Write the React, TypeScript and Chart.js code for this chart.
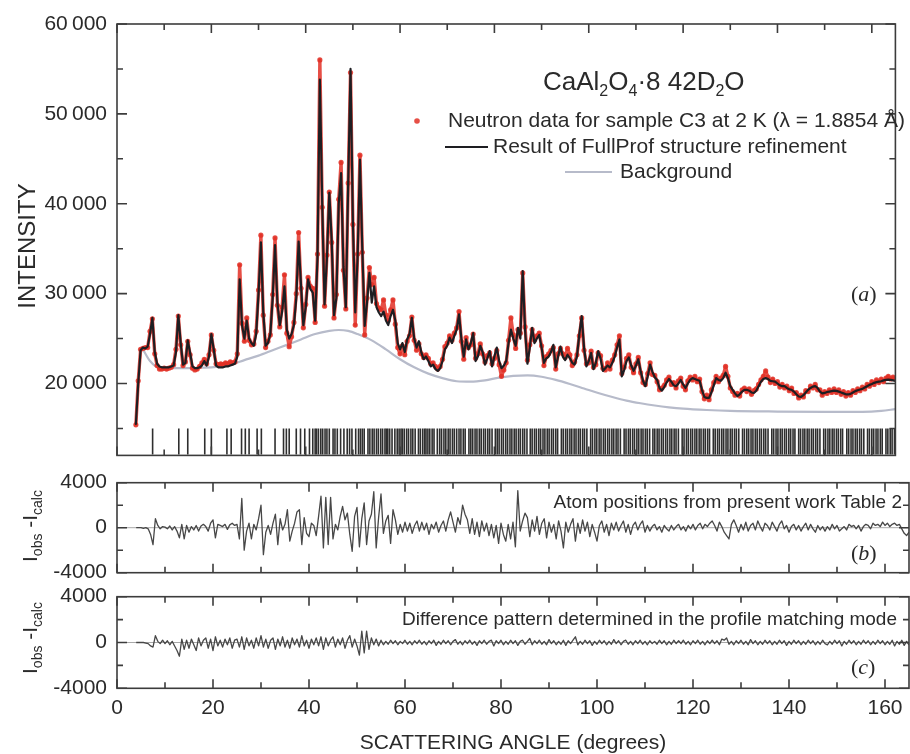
import React, { useEffect, useRef } from 'react';
import { Chart, registerables } from 'chart.js';

Chart.register(...registerables);

// ---------- DATA ----------
const ANGLE_START = 4;
const ANGLE_STEP = 0.5;

// calculated profile (FullProf refinement), one value per 0.5 deg from 4 deg
const CALC_INTENSITY = [
  15500, 20000, 23700, 24000, 23900, 24100, 25500, 27300, 23500, 22200, 21900, 21800, // 4.0-9.5
  21800, 21800, 21800, 21900, 22000, 23500, 27600, 24500, 22100, 22300, 24800, 23400, // 10-15.5
  21900, 21700, 21700, 21800, 22000, 22500, 22000, 23000, 25500, 23800, 22000, 21800, // 16-21.5
  21800, 21800, 21900, 21900, 22000, 22100, 22200, 23000, 31600, 26500, 25000, 27000, // 22-27.5
  25000, 24500, 24200, 25500, 30000, 35700, 28000, 24200, 24500, 25500, 29500, 35400, // 28-33.5
  29000, 26500, 28000, 30800, 26000, 25000, 25500, 26500, 29500, 35800, 31000, 26500, // 34-39.5
  28500, 31600, 30500, 30100, 27000, 34000, 53800, 40000, 28800, 34000, 41200, 36000, // 40-45.5
  27600, 29500, 40000, 43400, 33000, 28500, 42000, 55000, 38000, 27900, 34000, 44900, // 46-51.5
  35000, 26400, 29000, 32300, 29000, 30800, 28500, 27900, 27500, 28000, 27000, 26500, // 52-57.5
  27500, 28200, 27000, 24500, 23800, 24500, 23500, 24900, 25500, 27300, 25000, 24000, // 58-63.5
  24700, 23500, 22700, 23000, 22500, 21900, 22100, 21600, 21400, 21700, 22500, 23800, // 64-69.5
  24200, 25100, 24500, 25300, 26000, 27700, 25000, 23000, 24900, 23800, 24500, 25600, // 70-75.5
  22500, 23000, 24200, 23500, 22100, 22800, 23600, 21900, 23000, 24000, 22500, 21700, // 76-81.5
  22000, 22500, 24500, 26000, 25000, 24200, 26200, 25000, 32500, 26000, 22200, 24000, // 82-87.5
  26200, 24500, 25000, 25400, 24000, 22300, 22800, 23000, 23500, 24300, 21800, 23000, // 88-93.5
  24100, 23000, 22600, 23200, 22800, 22300, 22100, 23000, 25500, 27500, 24000, 21900, // 94-99.5
  22500, 23400, 21600, 22300, 23600, 22800, 21400, 21700, 22000, 21800, 22300, 23000, // 100-105.5
  24000, 24900, 20800, 21500, 22500, 22900, 22000, 21400, 22000, 22700, 21400, 20300, // 106-111.5
  19700, 20800, 22100, 21300, 20700, 20400, 19500, 19200, 19600, 20100, 20500, 20200, // 112-117.5
  19800, 19700, 20000, 20400, 19900, 19500, 20000, 20400, 20600, 20500, 20400, 20300, // 118-123.5
  19300, 18500, 18400, 18400, 19000, 19800, 20600, 20400, 20300, 20600, 21200, 20600, // 124-129.5
  19700, 19300, 18900, 18600, 18800, 19100, 19300, 19300, 19200, 19000, 18950, 19200, // 130-135.5
  19700, 20200, 20500, 20600, 20500, 20300, 20250, 20200, 20000, 19800, 19700, 19700, // 136-141.5
  19500, 19350, 19300, 19100, 18800, 18550, 18500, 18700, 19000, 19300, 19500, 19650, // 142-147.5
  19700, 19500, 19100, 18900, 18950, 19050, 19100, 19150, 19200, 19180, 19100, 19000, // 148-153.5
  18900, 18800, 18780, 18850, 19000, 19150, 19250, 19330, 19400, 19550, 19700, 19850, // 154-159.5
  19950, 20070, 20150, 20200, 20250, 20350, 20400, 20440, 20400, 20350, 20300, // 160-165
];

// observed neutron counts (red points), same angle grid
const OBS_INTENSITY = [
  15400, 20300, 23800, 23900, 24000, 24000, 25800, 27200, 23300, 22000, 21600, 21600,
  21700, 21600, 21700, 21800, 22100, 23800, 27500, 24300, 22000, 22400, 24700, 23200,
  21700, 21500, 21600, 21900, 22300, 22700, 22200, 23200, 25400, 23700, 22200, 22100,
  22200, 22100, 22300, 22200, 22400, 22300, 22400, 23300, 33200, 26700, 24700, 27300,
  24800, 24300, 24400, 25800, 30400, 36500, 27600, 24000, 24700, 25400, 29900, 36200,
  28700, 26300, 28500, 32100, 25600, 24100, 25200, 26800, 30000, 36800, 30600, 26200,
  28800, 31800, 30800, 30600, 26800, 34400, 56000, 39600, 28600, 34300, 41300, 35700,
  27300, 29900, 40500, 44600, 32600, 28300, 42300, 54600, 37700, 26500, 34400, 45400,
  34600, 25400, 29500, 32900, 31000, 31800, 28900, 28400, 28200, 29300, 27600, 27000,
  28200, 29300, 26600, 24000, 23300, 24200, 23200, 24700, 25300, 27400, 24800, 23700,
  24400, 23300, 22900, 23200, 22800, 22200, 22300, 21900, 21600, 21900, 22700, 24100,
  24500, 25300, 24800, 25600, 26200, 28000, 24700, 22700, 25100, 24000, 24300, 25500,
  22800, 23300, 24400, 23300, 22400, 23100, 23400, 22200, 22800, 23700, 22100, 20800,
  21500, 22300, 24800, 27300, 25400, 23900, 26000, 25600, 32300, 26300, 22600, 24300,
  26000, 24800, 25300, 25600, 24200, 22000, 23000, 23300, 23700, 24000, 21600, 23300,
  23900, 23300, 22900, 23900, 23200, 22000, 22400, 23200, 25300, 27300, 23700, 22200,
  22300, 23600, 21800, 22100, 23400, 23100, 21700, 21500, 22300, 21600, 22600, 23200,
  24300, 25300, 21100, 21800, 22800, 23200, 21800, 21200, 22200, 22900, 21200, 20100,
  19900, 21100, 22300, 21000, 20900, 20200, 19300, 19500, 19800, 20400, 20700, 19900,
  20100, 19500, 20300, 20600, 19700, 19300, 20300, 20700, 20400, 20800, 20200, 20500,
  19100, 18300, 18700, 18200, 19300, 20100, 20800, 20200, 20600, 20900, 21900, 20800,
  19500, 19100, 18700, 18900, 18600, 19300, 19500, 19100, 19400, 18800, 19200, 19400,
  19900, 20400, 20800, 21400, 20700, 20100, 20500, 20000, 20200, 19600, 19900, 19500,
  19700, 19200, 19500, 18900, 19000, 18400, 18700, 18500, 19200, 19100, 19700, 19500,
  19900, 19300, 19300, 18700, 19100, 18900, 19300, 19000, 19400, 19000, 19300, 18800,
  19100, 18600, 19000, 18700, 19200, 19000, 19400, 19200, 19600, 19400, 19900, 19700,
  20200, 19900, 20400, 20100, 20500, 20200, 20600, 20800, 20500, 20700, 20500,
];

// Iobs - Icalc, atom positions from Table 2 (panel b)
const DIFF_STRUCTURE = [
  0, 0, 0, -50, 0, -100, -600, -1500, 800, 200, -100, 100,
  50, -100, 150, -200, 100, -300, -900, 300, -1000, 200, -400, 100,
  -200, 200, -300, 150, 300, 100, -300, 400, 700, -900, 300, 200,
  100, 300, -150, 250, 400, 200, 300, -1000, 2600, -2000, -300, 400,
  -1000, 300, -200, 800, 2000, -2400, -400, 200, -600, 400, 1200, -1500,
  800, -200, 300, 1600, -1200, -300, 400, 1400, 1600, -1500, 900, -500,
  -800, 400, 200, -700, 1000, 2800, -1800, 2700, -1500, 2700, -1000, 300,
  -200, 1000, 1900, 700, 1300, -600, -2100, 1000, 1800, -1700, 800, 2200,
  -1500, 600, 1200, 3200, -1800, 900, 3000, -500, 600, 1100, -1400, 1600,
  700, -600, 300, -400, 500, -300, 400, -500, 200, 600, -300, 500,
  -200, 400, -600, 300, -100, 500, -400, 200, 600, -300, 700, 1400,
  500, -400, 900, 300, 2000, 1200, 700, -500, 800, -600, 500, -800,
  600, -300, 400, -700, 300, -900, 200, -1400, 400, -600, -1200, 300,
  -1000, 500, -1700, 3300, -300, 600, 1300, 900, -800, 700, -300, 1000,
  -600, 400, 800, -900, 500, -400, 300, -1000, 600, -300, -1800, 500,
  -400, 300, 800, -1200, 400, -500, 700, -300, 500, -800, 300, -400,
  -1200, 200, 600, -400, 300, -700, 400, -200, 500, -300, 200, 600,
  -400, 300, -600, 200, 500, -200, 300, 600, -400, 200, -300, 100,
  300, -200, 100, -400, 200, -100, -300, 200, -200, 100, 300, -200,
  100, -300, 200, -100, 300, -200, 200, 400, -100, 300, 100, 400,
  600, 200, -300, 500, 100, -400, -700, -1000, 300, 700, 200, -400,
  300, -200, 500, -300, 200, 400, -200, 600, 100, -300, 400, 200,
  -200, 500, 100, -300, 300, 600, -100, 200, -400, 100, 300, -200,
  200, -300, 100, 400, -200, 300, -100, -400, 200, -200, 100, -300,
  100, -200, 300, -100, 200, -300, -100, 100, -200, 300, 100, 200,
  -100, 200, -300, 100, 300, 200, -100, 400, 200, 300, 100, 500,
  200, 400, 100, 300, 400, 200, 300, -100, -500, -700, -400,
];

// Iobs - Icalc, profile matching mode (panel c)
const DIFF_PROFILE = [
  0, 0, 0, 0, -50, -100, -300, -400, 600, 100, -100, 200,
  -100, 150, -200, 100, -300, -700, -1200, 300, -600, 200, -500, 300,
  -200, -700, 400, -300, 200, 400, -500, 300, -700, 500, -300, 200,
  -400, 300, -200, 400, -500, 200, 300, -400, 500, -600, 400, -300,
  200, -500, 400, -300, 600, -400, 300, -500, 200, 400, -600, 300,
  -300, 500, -400, 200, -500, 400, -200, 300, -400, 600, -300, 200,
  -500, 300, -200, 400, -300, 500, -600, 400, -300, 200, 500, -400,
  300, -200, 400, -500, 200, 600, -400, 300, -300, -1100, 1000, -900,
  1000, -600, 400, -200, 300, -300, 200, -200, 100, -150, 200, -100,
  150, -200, 100, -100, 200, -150, 100, -200, 150, -100, 200, -150,
  100, -200, 150, -100, 200, -250, 100, -150, 200, -100, 150, -200,
  100, 250, -150, 100, -200, 150, -100, 200, -150, 100, -250, 150,
  -100, 200, -150, 100, 200, -300, 150, -100, 200, -200, 100, -150,
  200, -100, 150, -250, 100, 200, -150, 100, 350, -200, 150, -100,
  200, -150, 100, -200, 250, -100, 150, -200, 100, -150, 200, -250,
  150, -100, 200, 500, -200, 100, -150, 200, -100, 150, -250, 100,
  -150, 200, -100, 150, -200, 100, -150, 250, -100, 150, -200, 100,
  200, -150, 100, -200, 150, -100, 200, -150, 100, -200, 150, -100,
  100, -150, 200, -100, 150, -200, 100, -150, 200, -100, 150, -100,
  200, -150, 100, -200, 150, -100, 200, -150, 100, -200, 150, -100,
  200, -100, 150, -200, 300, 200, 400, -150, 100, -200, 150, -100,
  200, -150, 100, -200, 250, -100, 150, -200, 100, -150, 200, -100,
  150, -200, 100, -150, 200, -100, 150, -250, 100, -150, 200, -100,
  150, -200, 100, -150, 200, -100, 150, -200, 100, -150, 200, -100,
  -200, 100, -150, 200, -100, 150, -300, 100, -150, 200, -100, 150,
  -200, 100, -150, 200, -100, 150, -200, 100, -150, 200, -100, 150,
  -200, 100, -150, 200, -300, 100, -150, 200, -250, 100, -200,
];

const BACKGROUND_ANGLE = [5.5, 7, 9, 12, 15, 18, 21, 24, 27, 30, 33, 36, 39, 42, 45, 47, 49, 51, 54, 57, 60, 63, 66, 69, 72, 75, 78, 81, 84, 87, 90, 93, 96, 99, 102, 105, 108, 111, 114, 117, 120, 125, 130, 140, 150, 158, 162, 165];
const BACKGROUND_INTENSITY = [23800, 22500, 21750, 21700, 21700, 21750, 21850, 22100, 22600, 23100, 23700, 24300, 24900, 25500, 25850, 25950, 25850, 25500, 24800, 23800, 22700, 21800, 21100, 20600, 20250, 20200, 20350, 20650, 20850, 20900, 20750, 20400, 19950, 19450, 18950, 18500, 18100, 17800, 17550, 17350, 17200, 17050, 16950, 16880, 16850, 16850, 16950, 17150];

// Bragg reflection positions (deg)
const BRAGG_ANGLES = [
  7.55, 13.1, 15.0, 18.6, 20.0, 23.3, 24.2, 26.4, 27.2, 28.0, 29.7, 30.6, 33.5, 35.3, 35.9, 36.5,
  38.0, 38.9, 39.8, 40.8, 41.5, 42.0, 42.3, 42.7, 43.2, 43.6, 44.1, 44.5, 45.0, 45.8, 46.2, 46.7, 47.4, 48.1, 48.8,
  49.3, 49.8, 50.6, 51.2, 51.6, 52.0, 52.4, 53.2, 53.6, 54.1, 54.5, 55.0, 55.4, 55.9, 56.3, 56.8, 57.1, 57.4, 57.8,
  58.3, 58.9, 59.4, 59.8, 60.2, 60.5, 60.9, 61.4, 61.8, 62.3, 62.7, 63.2, 63.9, 64.3, 64.8, 65.2, 65.5, 65.9,
  66.3, 66.8, 67.2, 67.9, 68.4, 68.8, 69.3, 69.7, 70.2, 70.6, 71.1, 71.5, 72.0, 72.5, 72.9, 73.4,
  73.8, 74.6, 75.0, 75.4, 75.9, 76.3, 76.8, 77.2, 77.7, 78.1, 78.6, 79.0, 79.5, 80.2, 80.6, 81.0,
  81.5, 81.9, 82.4, 82.8, 83.3, 83.7, 84.2, 84.6, 85.1, 85.5, 86.0, 86.4, 86.9, 87.6, 88.0, 88.5,
  88.9, 89.4, 89.8, 90.3, 90.7, 91.2, 91.6, 92.1, 92.5, 93.0, 93.4, 94.2, 94.6, 95.1, 95.5, 96.0,
  96.4, 96.9, 97.3, 97.8, 98.2, 98.7, 99.1, 99.6, 100.4, 100.8, 101.3, 101.7, 102.2, 102.6, 103.1, 103.5,
  104.0, 104.4, 104.9, 105.3, 105.8, 106.2, 106.7, 107.5, 107.9, 108.4, 108.8, 109.3, 109.7, 110.2, 110.6, 111.1,
  111.5, 112.0, 112.4, 112.9, 113.6, 114.0, 114.5, 114.9, 115.4, 115.8, 116.3, 116.7, 117.2, 117.6, 118.1, 118.5,
  119.0, 119.8, 120.2, 120.7, 121.1, 121.6, 122.0, 122.5, 122.9, 123.4, 123.8, 124.3, 124.7, 125.2, 125.6, 126.4,
  126.8, 127.3, 127.7, 128.2, 128.6, 129.1, 129.5, 130.0, 130.4, 130.9, 131.3, 131.8, 132.6, 133.0, 133.5, 133.9,
  134.4, 134.8, 135.3, 135.7, 136.2, 136.6, 137.1, 137.5, 138.0, 138.8, 139.2, 139.7, 140.1, 140.6, 141.0, 141.5,
  141.9, 142.4, 142.8, 143.3, 143.7, 144.5, 144.9, 145.4, 145.8, 146.3, 146.7, 147.2, 147.6, 148.1, 148.5, 149.0,
  149.8, 150.2, 150.7, 151.1, 151.6, 152.0, 152.5, 152.9, 153.4, 153.8, 154.7, 155.1, 155.6, 156.0, 156.5, 156.9,
  157.4, 157.8, 158.3, 159.1, 159.5, 160.0, 160.4, 160.9, 161.3, 161.8, 162.2, 163.0, 163.4, 163.9, 164.3, 164.8,
];
const BRAGG_LEVEL = 13550;

const X_MAJOR = [0, 20, 40, 60, 80, 100, 120, 140, 160];
const X_MINOR = [10, 30, 50, 70, 90, 110, 130, 150];
const Y_MAIN_MAJOR = [20000, 30000, 40000, 50000, 60000];
const Y_MAIN_MINOR = [15000, 25000, 35000, 45000, 55000];
const Y_DIFF_MAJOR = [-4000, 0, 4000];
const Y_DIFF_MINOR = [-2000, 2000];

const LEGEND_LABELS = [
  'Neutron data for sample C3 at 2 K (\u03bb = 1.8854 \u00c5)',
  'Result of FullProf structure refinement',
  'Background',
];
const NOTE_B = 'Atom positions from present work Table 2';
const NOTE_C = 'Difference pattern determined in the profile matching mode';
const X_TITLE = 'SCATTERING ANGLE (degrees)';
const Y_TITLE = 'INTENSITY';

// ---------- STYLE / LAYOUT ----------
const SANS = "'Liberation Sans', Arial, Helvetica, sans-serif";
const SERIF = "'Liberation Serif', 'Times New Roman', serif";
const TEXT = '#2a2a2a';
const FRAME = '#3c3c3c';
const RED = 'rgba(226,48,38,0.85)';
const W = 910;
const PLOT_LEFT = 117;
const PANEL_A = { top: 0, height: 470, areaTop: 24, areaBottom: 456 };
const PANEL_B = { top: 462, height: 130, areaTop: 482.7, areaBottom: 572.7 };
const PANEL_C = { top: 580, height: 174, areaTop: 596.7, areaBottom: 688.3 };

const ANGLES = CALC_INTENSITY.map((_, i) => ANGLE_START + i * ANGLE_STEP);
const pts = (xs: number[], ys: number[]) => xs.map((x, i) => ({ x, y: ys[i] }));

const fmtMain = (v: number) => {
  const s = String(Math.round(v));
  return s.length > 3 ? s.slice(0, s.length - 3) + '\u2009' + s.slice(-3) : s;
};
const fmtDiff = (v: number) => (v < 0 ? '-' + Math.abs(v) : String(v));

function yAxis(min: number, max: number, major: number[], fmt: (v: number) => string) {
  return {
    type: 'linear',
    position: 'left',
    min,
    max,
    grid: { display: false, drawTicks: false },
    border: { display: false },
    afterBuildTicks: (s: any) => {
      s.ticks = major.map((v) => ({ value: v }));
    },
    afterFit: (s: any) => {
      s.width = PLOT_LEFT;
      s.paddingTop = 0;
      s.paddingBottom = 0;
    },
    ticks: {
      padding: 10,
      color: TEXT,
      font: { family: SANS, size: 21, lineHeight: 1 },
      callback: (v: any) => fmt(Number(v)),
    },
  };
}

function drawFrame(chart: any, yMajor: number[], yMinor: number[]) {
  const { ctx, chartArea: a, scales } = chart;
  const x = scales.x;
  const y = scales.y;
  ctx.save();
  ctx.strokeStyle = FRAME;
  ctx.lineWidth = 1.6;
  ctx.strokeRect(a.left, a.top, a.right - a.left, a.bottom - a.top);
  ctx.beginPath();
  const xt = (list: number[], len: number) =>
    list.forEach((v) => {
      const p = x.getPixelForValue(v);
      ctx.moveTo(p, a.top);
      ctx.lineTo(p, a.top + len);
      ctx.moveTo(p, a.bottom);
      ctx.lineTo(p, a.bottom - len);
    });
  const yt = (list: number[], len: number) =>
    list.forEach((v) => {
      const p = y.getPixelForValue(v);
      ctx.moveTo(a.left, p);
      ctx.lineTo(a.left + len, p);
      ctx.moveTo(a.right, p);
      ctx.lineTo(a.right - len, p);
    });
  xt(X_MAJOR, 9);
  xt(X_MINOR, 6);
  yt(yMajor, 10);
  yt(yMinor, 6);
  ctx.stroke();
  ctx.restore();
}

type Part = { t: string; size: number; dy?: number; italic?: boolean; family?: string };
function drawParts(ctx: CanvasRenderingContext2D, parts: Part[], x: number, y: number, align: 'left' | 'center') {
  const measure = (p: Part) => {
    ctx.font = `${p.italic ? 'italic ' : ''}${p.size}px ${p.family || SANS}`;
    return ctx.measureText(p.t).width;
  };
  const total = parts.reduce((s, p) => s + measure(p), 0);
  let cx = align === 'center' ? x - total / 2 : x;
  ctx.textAlign = 'left';
  ctx.textBaseline = 'alphabetic';
  parts.forEach((p) => {
    const w = measure(p);
    ctx.fillText(p.t, cx, y + (p.dy || 0));
    cx += w;
  });
}

function drawRotated(ctx: CanvasRenderingContext2D, parts: Part[], baseX: number, centerY: number) {
  ctx.save();
  ctx.translate(baseX, centerY);
  ctx.rotate(-Math.PI / 2);
  drawParts(ctx, parts, 0, 0, 'center');
  ctx.restore();
}

function drawPanelLabel(ctx: CanvasRenderingContext2D, letter: string, x: number, y: number) {
  drawParts(
    ctx,
    [
      { t: '(', size: 22, family: SERIF },
      { t: letter, size: 22, family: SERIF, italic: true },
      { t: ')', size: 22, family: SERIF },
    ],
    x,
    y,
    'left'
  );
}

const diffLabel: Part[] = [
  { t: 'I', size: 21 },
  { t: 'obs', size: 14, dy: 5 },
  { t: ' -', size: 21 },
  { t: 'I', size: 21 },
  { t: 'calc', size: 14, dy: 5 },
];

const mainDecor = {
  id: 'mainDecor',
  afterDraw(chart: any) {
    const ctx = chart.ctx as CanvasRenderingContext2D;
    drawFrame(chart, Y_MAIN_MAJOR, Y_MAIN_MINOR);
    ctx.save();
    ctx.fillStyle = TEXT;
    drawParts(
      ctx,
      [
        { t: 'CaAl', size: 26 },
        { t: '2', size: 16, dy: 6 },
        { t: 'O', size: 26 },
        { t: '4', size: 16, dy: 6 },
        { t: '\u00b78 42D', size: 26 },
        { t: '2', size: 16, dy: 6 },
        { t: 'O', size: 26 },
      ],
      543,
      90,
      'left'
    );
    ctx.fillStyle = RED;
    ctx.beginPath();
    ctx.arc(417, 121, 2.8, 0, Math.PI * 2);
    ctx.fill();
    ctx.lineWidth = 2.2;
    ctx.strokeStyle = '#1e1e22';
    ctx.beginPath();
    ctx.moveTo(445, 147);
    ctx.lineTo(488, 147);
    ctx.stroke();
    ctx.strokeStyle = '#b7bbca';
    ctx.beginPath();
    ctx.moveTo(565, 172);
    ctx.lineTo(612, 172);
    ctx.stroke();
    ctx.fillStyle = TEXT;
    ctx.font = `21px ${SANS}`;
    ctx.textAlign = 'left';
    ctx.textBaseline = 'middle';
    ctx.fillText(LEGEND_LABELS[0], 448, 121);
    ctx.fillText(LEGEND_LABELS[1], 493, 147);
    ctx.fillText(LEGEND_LABELS[2], 620, 172);
    drawRotated(ctx, [{ t: Y_TITLE, size: 24 }], 35, 246);
    drawPanelLabel(ctx, 'a', 851, 301);
    ctx.restore();
  },
};

const panelBDecor = {
  id: 'panelBDecor',
  afterDraw(chart: any) {
    const ctx = chart.ctx as CanvasRenderingContext2D;
    drawFrame(chart, Y_DIFF_MAJOR, Y_DIFF_MINOR);
    ctx.save();
    ctx.translate(0, -PANEL_B.top);
    ctx.fillStyle = TEXT;
    ctx.font = `19px ${SANS}`;
    ctx.textAlign = 'right';
    ctx.textBaseline = 'middle';
    ctx.fillText(NOTE_B, 902, 503);
    drawPanelLabel(ctx, 'b', 851, 560);
    drawRotated(ctx, diffLabel, 37, 526);
    ctx.restore();
  },
};

const panelCDecor = {
  id: 'panelCDecor',
  afterDraw(chart: any) {
    const ctx = chart.ctx as CanvasRenderingContext2D;
    drawFrame(chart, Y_DIFF_MAJOR, Y_DIFF_MINOR);
    ctx.save();
    ctx.translate(0, -PANEL_C.top);
    ctx.fillStyle = TEXT;
    ctx.font = `19px ${SANS}`;
    ctx.textAlign = 'right';
    ctx.textBaseline = 'middle';
    ctx.fillText(NOTE_C, 897, 620);
    drawPanelLabel(ctx, 'c', 851, 674);
    drawRotated(ctx, diffLabel, 37, 638);
    ctx.restore();
  },
};

const zeroLine = {
  id: 'zeroLine',
  beforeDatasetsDraw(chart: any) {
    const { ctx, chartArea: a, scales } = chart;
    const p = scales.y.getPixelForValue(0);
    ctx.save();
    ctx.strokeStyle = '#a8a8a8';
    ctx.lineWidth = 1;
    ctx.beginPath();
    ctx.moveTo(a.left, p);
    ctx.lineTo(a.right, p);
    ctx.stroke();
    ctx.restore();
  },
};

function padFor(p: { top: number; height: number; areaTop: number; areaBottom: number }, bottomAxis = 0) {
  return {
    top: p.areaTop - p.top,
    bottom: bottomAxis ? 0 : p.top + p.height - p.areaBottom,
    left: 0,
    right: 1,
  };
}

export default function App() {
  const refA = useRef<HTMLCanvasElement>(null);
  const refB = useRef<HTMLCanvasElement>(null);
  const refC = useRef<HTMLCanvasElement>(null);

  useEffect(() => {
    const common = {
      responsive: false,
      animation: false as const,
      events: [] as any[],
      plugins: { legend: { display: false }, tooltip: { enabled: false } },
    };

    const chartA = new Chart(refA.current as HTMLCanvasElement, {
      type: 'scatter',
      data: {
        datasets: [
          {
            data: pts(ANGLES, CALC_INTENSITY),
            showLine: true,
            borderColor: '#1e1e22',
            borderWidth: 2.2,
            borderJoinStyle: 'round',
            borderCapStyle: 'round',
            pointRadius: 0,
            order: 1,
          },
          {
            data: pts(ANGLES, OBS_INTENSITY),
            showLine: true,
            borderColor: RED,
            borderWidth: 3.4,
            borderJoinStyle: 'round',
            borderCapStyle: 'round',
            pointRadius: 2.6,
            pointBorderWidth: 0,
            pointBackgroundColor: RED,
            order: 2,
          },
          {
            data: pts(BACKGROUND_ANGLE, BACKGROUND_INTENSITY),
            showLine: true,
            borderColor: '#b7bbca',
            borderWidth: 2.2,
            pointRadius: 0,
            cubicInterpolationMode: 'monotone',
            order: 3,
          },
          {
            data: BRAGG_ANGLES.map((x) => ({ x, y: BRAGG_LEVEL })),
            showLine: false,
            pointStyle: 'line',
            pointRotation: 90,
            pointRadius: 13,
            pointBorderWidth: 1.6,
            pointBorderColor: '#2e2e2e',
            order: 4,
          },
        ] as any,
      },
      options: {
        ...common,
        layout: { padding: padFor(PANEL_A) },
        scales: {
          x: { type: 'linear', min: 0, max: 165, display: false },
          y: yAxis(12000, 60000, Y_MAIN_MAJOR, fmtMain) as any,
        },
      } as any,
      plugins: [mainDecor],
    });

    const diffDataset = (vals: number[]) => ({
      data: pts(ANGLES, vals),
      showLine: true,
      borderColor: '#474747',
      borderWidth: 1.3,
      borderJoinStyle: 'round',
      pointRadius: 0,
    });

    const chartB = new Chart(refB.current as HTMLCanvasElement, {
      type: 'scatter',
      data: { datasets: [diffDataset(DIFF_STRUCTURE)] as any },
      options: {
        ...common,
        layout: { padding: padFor(PANEL_B) },
        scales: {
          x: { type: 'linear', min: 0, max: 165, display: false },
          y: yAxis(-4000, 4000, Y_DIFF_MAJOR, fmtDiff) as any,
        },
      } as any,
      plugins: [zeroLine, panelBDecor],
    });

    const chartC = new Chart(refC.current as HTMLCanvasElement, {
      type: 'scatter',
      data: { datasets: [diffDataset(DIFF_PROFILE)] as any },
      options: {
        ...common,
        layout: { padding: padFor(PANEL_C, 1) },
        scales: {
          x: {
            type: 'linear',
            min: 0,
            max: 165,
            position: 'bottom',
            grid: { display: false, drawTicks: false },
            border: { display: false },
            afterBuildTicks: (s: any) => {
              s.ticks = X_MAJOR.map((v) => ({ value: v }));
            },
            afterFit: (s: any) => {
              s.height = PANEL_C.top + PANEL_C.height - PANEL_C.areaBottom;
              s.paddingLeft = 0;
              s.paddingRight = 0;
            },
            ticks: {
              padding: 9,
              maxRotation: 0,
              autoSkip: false,
              color: TEXT,
              font: { family: SANS, size: 21, lineHeight: 1 },
            },
            title: {
              display: true,
              text: X_TITLE,
              color: TEXT,
              padding: 0,
              font: { family: SANS, size: 21, lineHeight: 1.05 },
            },
          },
          y: yAxis(-4000, 4000, Y_DIFF_MAJOR, fmtDiff) as any,
        },
      } as any,
      plugins: [zeroLine, panelCDecor],
    });

    return () => {
      chartA.destroy();
      chartB.destroy();
      chartC.destroy();
    };
  }, []);

  const cv = (p: { top: number; height: number }) => ({
    position: 'absolute' as const,
    left: 0,
    top: p.top,
    width: W,
    height: p.height,
  });

  return (
    <div style={{ position: 'absolute', left: 0, top: 0, width: W, height: 754, background: '#fff', overflow: 'hidden' }}>
      <canvas ref={refA} width={W} height={PANEL_A.height} style={cv(PANEL_A)} />
      <canvas ref={refB} width={W} height={PANEL_B.height} style={cv(PANEL_B)} />
      <canvas ref={refC} width={W} height={PANEL_C.height} style={cv(PANEL_C)} />
    </div>
  );
}
